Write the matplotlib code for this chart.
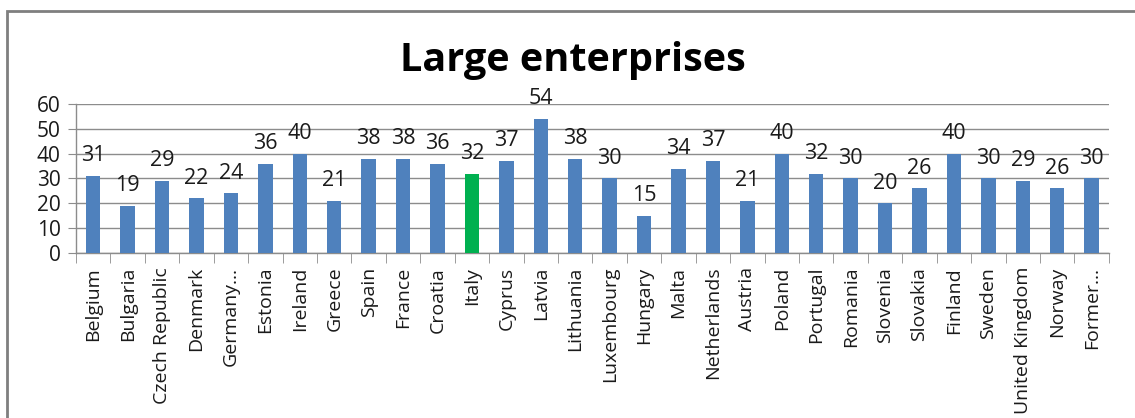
import matplotlib
matplotlib.use("Agg")
import matplotlib.pyplot as plt
import numpy as np
from matplotlib.patches import Rectangle

countries = ["Belgium", "Bulgaria", "Czech Republic", "Denmark", "Germany…",
             "Estonia", "Ireland", "Greece", "Spain", "France", "Croatia",
             "Italy", "Cyprus", "Latvia", "Lithuania", "Luxembourg", "Hungary",
             "Malta", "Netherlands", "Austria", "Poland", "Portugal", "Romania",
             "Slovenia", "Slovakia", "Finland", "Sweden", "United Kingdom",
             "Norway", "Former…"]
values = [31, 19, 29, 22, 24, 36, 40, 21, 38, 38, 36, 32, 37, 54, 38, 30, 15,
          34, 37, 21, 40, 32, 30, 20, 26, 40, 30, 29, 26, 30]
highlight = "Italy"

BLUE = "#4F81BD"
GREEN = "#00B050"
GRID = "#8C8C8C"

plt.rcParams['font.family'] = ['Open Sans', 'DejaVu Sans']

fig = plt.figure(figsize=(11.35, 4.18), dpi=100)
ax = fig.add_axes([0.067, 0.395, 0.91, 0.356])

x = np.arange(len(countries))
colors = [GREEN if c == highlight else BLUE for c in countries]
bars = ax.bar(x, values, width=0.42, color=colors, zorder=3)

for b, v in zip(bars, values):
    ax.annotate(str(v), (b.get_x() + b.get_width() / 2, v),
                xytext=(0, 7), textcoords="offset points",
                ha="center", va="bottom", fontsize=15.5, color="#1a1a1a",
                zorder=4, annotation_clip=False)

ax.set_xlim(-0.5, len(countries) - 0.5)
ax.set_ylim(0, 60)
ax.set_yticks(range(0, 61, 10))
ax.yaxis.grid(True, color=GRID, linewidth=1, zorder=0)
ax.tick_params(axis="y", labelsize=15, length=6, color=GRID, pad=5,
               labelcolor="#1a1a1a")

# category labels sit between the boundary ticks
ax.set_xticks(x)
ax.set_xticklabels(countries, rotation=90, fontsize=14, color="#1a1a1a")
ax.tick_params(axis="x", length=0, pad=10)
ax.set_xticks(np.arange(-0.5, len(countries)), minor=True)
ax.tick_params(axis="x", which="minor", length=7, color=GRID)

for side in ("top", "right"):
    ax.spines[side].set_visible(False)
for side in ("left", "bottom"):
    ax.spines[side].set_color(GRID)
    ax.spines[side].set_linewidth(1)

fig.text(0.505, 0.855, "Large enterprises", ha="center", va="center",
         fontsize=28.5, fontweight="bold", color="black")

# outer chart frame
fig.patches.append(Rectangle((0.006, -0.1), 1.2, 1.073, transform=fig.transFigure,
                             fill=False, edgecolor="#7F7F7F", linewidth=2))

fig.savefig("out.png", dpi=100)
